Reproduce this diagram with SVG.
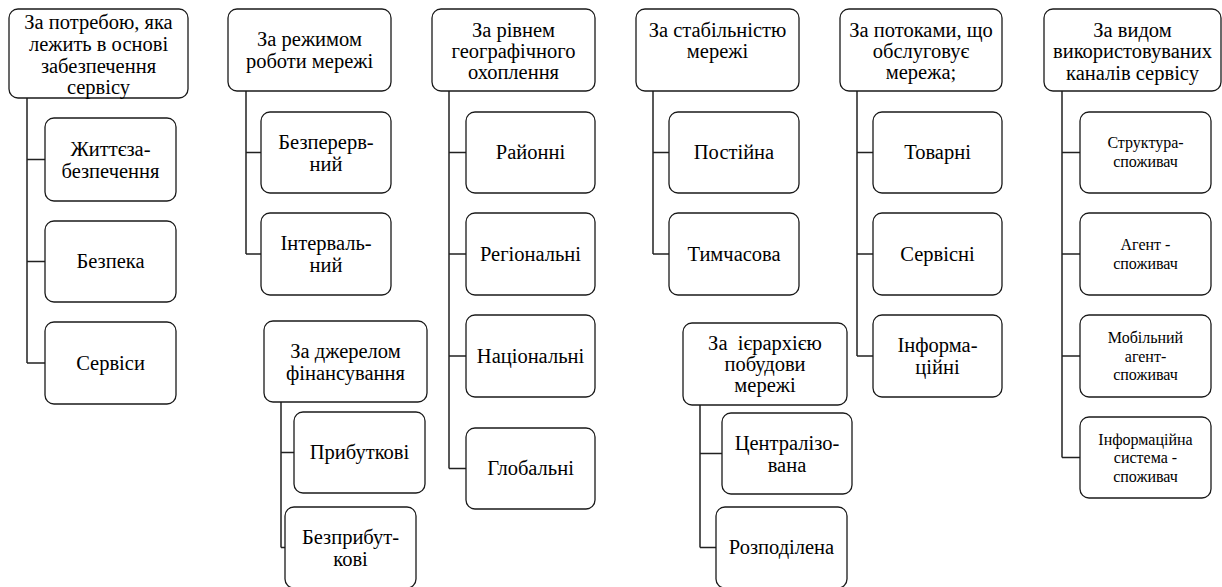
<svg xmlns="http://www.w3.org/2000/svg" width="1222" height="587" viewBox="0 0 1222 587">
<style>
.box{fill:#fff;stroke:#1a1a1a;stroke-width:1.3}
.wire{fill:none;stroke:#222;stroke-width:1.5}
.lbl{font-family:'Liberation Serif',serif;font-size:20.5px;fill:#000;text-anchor:middle}
.lbs{font-family:'Liberation Serif',serif;font-size:16px;fill:#000;text-anchor:middle}
</style>
<rect width="1222" height="587" fill="#fff"/>
<g id="connectors">
<path class="wire" d="M27,98V363M27,159.5H45M27,261.5H45M27,363H45"/>
<path class="wire" d="M246,91V254M246,152.5H261M246,254H261"/>
<path class="wire" d="M449,91V468.5M449,152.5H466M449,254H466M449,356H466M449,468.5H466"/>
<path class="wire" d="M653,91V254M653,152.5H669M653,254H669"/>
<path class="wire" d="M857,91V356M857,152.5H873M857,254H873M857,356H873"/>
<path class="wire" d="M1062,91V457.5M1062,152.5H1080M1062,254H1080M1062,356H1080M1062,457.5H1080"/>
<path class="wire" d="M281,402V547.5M281,452.5H294M281,547.5H285"/>
<path class="wire" d="M700,405V547.5M700,453.5H722M700,547.5H716"/>
</g>
<g id="nA"><rect class="box" x="9" y="9" width="179" height="89" rx="9"/><text class="lbl" font-family="Liberation Serif"><tspan x="98.5" y="29">За потребою, яка</tspan><tspan x="98.5" y="51">лежить в основі</tspan><tspan x="98.5" y="73">забезпечення</tspan><tspan x="98.5" y="94">сервісу</tspan></text></g>
<g id="nA1"><rect class="box" x="45" y="118" width="131" height="83" rx="9"/><text class="lbl" font-family="Liberation Serif"><tspan x="110.5" y="156">Життєза-</tspan><tspan x="110.5" y="178">безпечення</tspan></text></g>
<g id="nA2"><rect class="box" x="45" y="221" width="131" height="81" rx="9"/><text class="lbl" font-family="Liberation Serif" x="110.5" y="268">Безпека</text></g>
<g id="nA3"><rect class="box" x="45" y="322" width="131" height="82" rx="9"/><text class="lbl" font-family="Liberation Serif" x="110.5" y="369.5">Сервіси</text></g>
<g id="nB"><rect class="box" x="228" y="9" width="163" height="82" rx="9"/><text class="lbl" font-family="Liberation Serif"><tspan x="309.5" y="46">За режимом</tspan><tspan x="309.5" y="68">роботи мережі</tspan></text></g>
<g id="nB1"><rect class="box" x="261" y="112" width="130" height="81" rx="9"/><text class="lbl" font-family="Liberation Serif"><tspan x="326" y="148.5">Безперерв-</tspan><tspan x="326" y="170.5">ний</tspan></text></g>
<g id="nB2"><rect class="box" x="261" y="213" width="130" height="82" rx="9"/><text class="lbl" font-family="Liberation Serif"><tspan x="326" y="250">Інтерваль-</tspan><tspan x="326" y="272">ний</tspan></text></g>
<g id="nC"><rect class="box" x="432" y="9" width="163" height="82" rx="9"/><text class="lbl" font-family="Liberation Serif"><tspan x="513.5" y="37">За рівнем</tspan><tspan x="513.5" y="58">географічного</tspan><tspan x="513.5" y="79">охоплення</tspan></text></g>
<g id="nC1"><rect class="box" x="466" y="112" width="129" height="81" rx="9"/><text class="lbl" font-family="Liberation Serif" x="530.5" y="159">Районні</text></g>
<g id="nC2"><rect class="box" x="466" y="213" width="129" height="82" rx="9"/><text class="lbl" font-family="Liberation Serif" x="530.5" y="260.5">Регіональні</text></g>
<g id="nC3"><rect class="box" x="466" y="315" width="129" height="82" rx="9"/><text class="lbl" font-family="Liberation Serif" x="530.5" y="362.5">Національні</text></g>
<g id="nC4"><rect class="box" x="466" y="428" width="129" height="81" rx="9"/><text class="lbl" font-family="Liberation Serif" x="530.5" y="475">Глобальні</text></g>
<g id="nD"><rect class="box" x="636" y="9" width="163" height="82" rx="9"/><text class="lbl" font-family="Liberation Serif"><tspan x="717.5" y="37">За стабільністю</tspan><tspan x="717.5" y="58">мережі</tspan></text></g>
<g id="nD1"><rect class="box" x="669" y="112" width="130" height="81" rx="9"/><text class="lbl" font-family="Liberation Serif" x="734" y="159">Постійна</text></g>
<g id="nD2"><rect class="box" x="669" y="213" width="130" height="82" rx="9"/><text class="lbl" font-family="Liberation Serif" x="734" y="260.5">Тимчасова</text></g>
<g id="nE"><rect class="box" x="840" y="9" width="162" height="82" rx="9"/><text class="lbl" font-family="Liberation Serif"><tspan x="921" y="37">За потоками, що</tspan><tspan x="921" y="58">обслуговує</tspan><tspan x="921" y="79">мережа;</tspan></text></g>
<g id="nE1"><rect class="box" x="873" y="112" width="129" height="81" rx="9"/><text class="lbl" font-family="Liberation Serif" x="937.5" y="159">Товарні</text></g>
<g id="nE2"><rect class="box" x="873" y="213" width="129" height="82" rx="9"/><text class="lbl" font-family="Liberation Serif" x="937.5" y="260.5">Сервісні</text></g>
<g id="nE3"><rect class="box" x="873" y="315" width="129" height="82" rx="9"/><text class="lbl" font-family="Liberation Serif"><tspan x="937.5" y="352">Інформа-</tspan><tspan x="937.5" y="374">ційні</tspan></text></g>
<g id="nF"><rect class="box" x="1044" y="9" width="177" height="82" rx="9"/><text class="lbl" font-family="Liberation Serif"><tspan x="1132.5" y="37">За видом</tspan><tspan x="1132.5" y="58">використовуваних</tspan><tspan x="1132.5" y="80">каналів сервісу</tspan></text></g>
<g id="nF1"><rect class="box" x="1080" y="112" width="131" height="81" rx="9"/><text class="lbs" font-family="Liberation Serif"><tspan x="1145.5" y="148">Структура-</tspan><tspan x="1145.5" y="167">споживач</tspan></text></g>
<g id="nF2"><rect class="box" x="1080" y="213" width="131" height="82" rx="9"/><text class="lbs" font-family="Liberation Serif"><tspan x="1145.5" y="249.5">Агент -</tspan><tspan x="1145.5" y="268.5">споживач</tspan></text></g>
<g id="nF3"><rect class="box" x="1080" y="315" width="131" height="82" rx="9"/><text class="lbs" font-family="Liberation Serif"><tspan x="1145.5" y="343">Мобільний</tspan><tspan x="1145.5" y="361.5">агент-</tspan><tspan x="1145.5" y="380">споживач</tspan></text></g>
<g id="nF4"><rect class="box" x="1080" y="417" width="131" height="81" rx="9"/><text class="lbs" font-family="Liberation Serif"><tspan x="1145.5" y="444.5">Інформаційна</tspan><tspan x="1145.5" y="463">система -</tspan><tspan x="1145.5" y="481.5">споживач</tspan></text></g>
<g id="nG"><rect class="box" x="264" y="321" width="163" height="81" rx="9"/><text class="lbl" font-family="Liberation Serif"><tspan x="345.5" y="357.5">За джерелом</tspan><tspan x="345.5" y="379.5">фінансування</tspan></text></g>
<g id="nG1"><rect class="box" x="294" y="412" width="131" height="81" rx="9"/><text class="lbl" font-family="Liberation Serif" x="359.5" y="459">Прибуткові</text></g>
<g id="nG2"><rect class="box" x="285" y="507" width="131" height="81" rx="9"/><text class="lbl" font-family="Liberation Serif"><tspan x="350.5" y="543.5">Безприбут-</tspan><tspan x="350.5" y="565.5">кові</tspan></text></g>
<g id="nH"><rect class="box" x="683" y="323" width="164" height="82" rx="9"/><text class="lbl" font-family="Liberation Serif"><tspan x="765" y="350">За&#160; ієрархією</tspan><tspan x="765" y="371">побудови</tspan><tspan x="765" y="392">мережі</tspan></text></g>
<g id="nH1"><rect class="box" x="722" y="413" width="130" height="81" rx="9"/><text class="lbl" font-family="Liberation Serif"><tspan x="787" y="449.5">Централізо-</tspan><tspan x="787" y="471.5">вана</tspan></text></g>
<g id="nH2"><rect class="box" x="716" y="507" width="131" height="81" rx="9"/><text class="lbl" font-family="Liberation Serif" x="781.5" y="554">Розподілена</text></g>
</svg>
